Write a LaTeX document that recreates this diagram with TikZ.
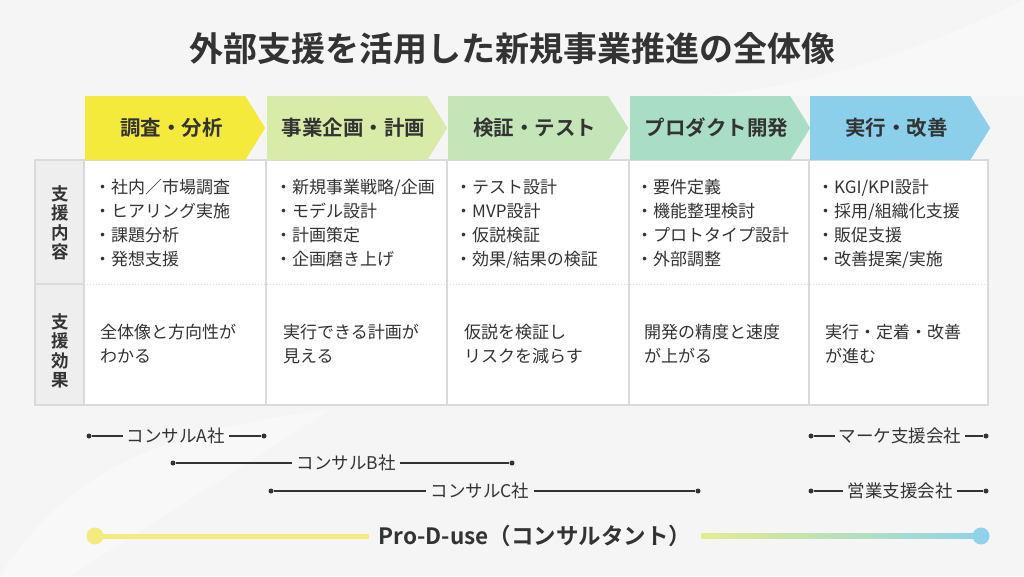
\documentclass[tikz,border=0pt]{standalone}
\usepackage{fontspec}
\setmainfont{Noto Sans CJK JP}[BoldFont={Noto Sans CJK JP Bold}]
\usetikzlibrary{shapes.symbols, positioning, calc}

\definecolor{bg}{HTML}{F5F5F5}
\definecolor{ink}{HTML}{333333}
\definecolor{rule}{HTML}{DADADA}
\definecolor{headgray}{HTML}{EEEEEE}
\definecolor{phaseA}{HTML}{F4EA3C}
\definecolor{phaseB}{HTML}{D9EBA8}
\definecolor{phaseC}{HTML}{C4E5B8}
\definecolor{phaseD}{HTML}{A9DDC5}
\definecolor{phaseE}{HTML}{8BCFEA}
\definecolor{proY}{HTML}{F3EC7C}
\definecolor{proG}{HTML}{E3EC8C}
\definecolor{proB}{HTML}{8ED3EA}

\begin{document}
\begin{tikzpicture}[x=1pt,y=-1pt,
    phase/.style={signal, signal to=east, signal pointer angle=116, minimum width=180pt, minimum height=64pt, inner sep=0pt, anchor=west},
    phasetext/.style={inner sep=0pt, font=\bfseries\fontsize{20.5}{24}\selectfont, text=ink},
    item/.style={anchor=north west, align=left, inner sep=0pt, font=\fontsize{17}{24}\selectfont, text=ink},
    rowhead/.style={align=center, inner sep=0pt, font=\bfseries\fontsize{17.5}{19.5}\selectfont, text=ink},
    firm/.style={inner sep=4pt, font=\fontsize{17.5}{20}\selectfont, text=ink},
    span/.style={draw=ink, line width=1.2pt},
    dot/.style={circle, fill=ink, inner sep=0pt, minimum size=5pt},
    bigdot/.style={circle, inner sep=0pt, minimum size=17pt}]
  \fill[bg] (0,0) rectangle (1024,576);
  \fill[white, opacity=0.35] (0,576) .. controls (60,480) and (150,430) .. (330,410) -- (70,576) -- cycle;
  \fill[white, opacity=0.35] (1024,0) .. controls (900,60) and (800,88) .. (700,96) -- (1024,96) -- cycle;

  \node[font=\bfseries\fontsize{34}{38}\selectfont, text=ink] (title) at (512,49) {外部支援を活用した新規事業推進の全体像};

  % table
  \fill[white] (84,160) rectangle (988,405);
  \fill[headgray] (35,160) rectangle (84,405);
  \draw[rule, line width=1.5pt] (35,160) rectangle (988,405);
  \foreach \x in {84,266,447,629,809}
    \draw[rule, line width=1.5pt] (\x,160) -- (\x,405);
  \draw[rule, line width=1.5pt] (35,284) -- (84,284);
  \draw[rule, line width=1pt, dotted] (84,284) -- (988,284);

  \node[rowhead] (rowA) at (60,223) {支\\援\\内\\容};
  \node[rowhead] (rowB) at (60,351) {支\\援\\効\\果};

  % phases
  \node[phase, fill=phaseA] (research) at (85,128) {};
  \node[phase, fill=phaseB] (planning) at (267,128) {};
  \node[phase, fill=phaseC] (testing) at (448,128) {};
  \node[phase, fill=phaseD] (product) at (630,128) {};
  \node[phase, fill=phaseE] (improve) at (810,128) {};
  \foreach \p/\t in {research/調査・分析, planning/事業企画・計画, testing/検証・テスト, product/プロダクト開発, improve/実行・改善}
    \node[phasetext] (\p-text) at ($(\p.west)!0.48!(\p.east)$) {\t};

  \node[item] (doA) at (94,179) {・社内／市場調査\\・ヒアリング実施\\・課題分析\\・発想支援};
  \node[item] (doB) at (275,179) {・新規事業戦略/企画\\・モデル設計\\・計画策定\\・企画磨き上げ};
  \node[item] (doC) at (455,179) {・テスト設計\\・MVP設計\\・仮説検証\\・効果/結果の検証};
  \node[item] (doD) at (636,179) {・要件定義\\・機能整理検討\\・プロトタイプ設計\\・外部調整};
  \node[item] (doE) at (817,179) {・KGI/KPI設計\\・採用/組織化支援\\・販促支援\\・改善提案/実施};

  \node[item] (effA) at (100,324) {全体像と方向性が\\わかる};
  \node[item] (effB) at (283,324) {実行できる計画が\\見える};
  \node[item] (effC) at (464,324) {仮説を検証し\\リスクを減らす};
  \node[item] (effD) at (644,324) {開発の精度と速度\\が上がる};
  \node[item] (effE) at (825,324) {実行・定着・改善\\が進む};

  % firms
  \node[dot] (a1) at (89,436) {};
  \node[dot] (a2) at (264,436) {};
  \node[firm] (firmA) at (176,436) {コンサルA社};
  \draw[span] (a1) -- (firmA) -- (a2);

  \node[dot] (b1) at (173,463) {};
  \node[dot] (b2) at (512,463) {};
  \node[firm] (firmB) at (346,463) {コンサルB社};
  \draw[span] (b1) -- (firmB) -- (b2);

  \node[dot] (c1) at (271,491) {};
  \node[dot] (c2) at (698,491) {};
  \node[firm] (firmC) at (480,491) {コンサルC社};
  \draw[span] (c1) -- (firmC) -- (c2);

  \node[dot] (m1) at (811,436) {};
  \node[dot] (m2) at (986,436) {};
  \node[firm] (firmM) at (900,436) {マーケ支援会社};
  \draw[span] (m1) -- (firmM) -- (m2);

  \node[dot] (s1) at (811,491) {};
  \node[dot] (s2) at (986,491) {};
  \node[firm] (firmS) at (900,491) {営業支援会社};
  \draw[span] (s1) -- (firmS) -- (s2);

  % Pro-D-use
  \node[font=\bfseries\fontsize{22.5}{26}\selectfont, text=ink, inner sep=10pt] (prod) at (535,536) {Pro-D-use（コンサルタント）};
  \node[bigdot] (pY) at (95,536) {};
  \node[bigdot] (pB) at (981,536) {};
  \draw[proY, line width=5pt] (pY.center) -- (prod.west);
  \shade[left color=proG, right color=proB] ($(prod.east)+(0,-2.5)$) rectangle ($(pB.center)+(0,2.5)$);
  \fill[proY] (pY) circle (8.5);
  \fill[proB] (pB) circle (8.5);
\end{tikzpicture}
\end{document}
